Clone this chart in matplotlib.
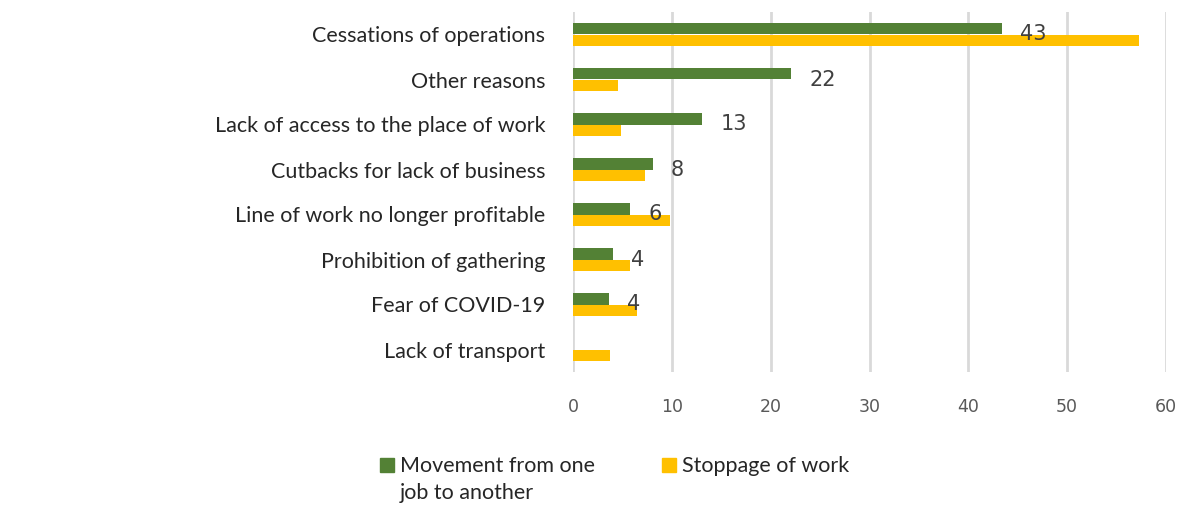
import matplotlib.pyplot as plt
from matplotlib.patches import Rectangle
import numpy as np

categories = ["Cessations of operations", "Other reasons",
              "Lack of access to the place of work", "Cutbacks for lack of business",
              "Line of work no longer profitable", "Prohibition of gathering",
              "Fear of COVID-19", "Lack of transport"]
movement = [43.4, 22.1, 13.1, 8.1, 5.8, 4.0, 3.6, 0.0]
stoppage = [57.3, 4.6, 4.9, 7.3, 9.8, 5.8, 6.5, 3.7]
xticks = [0, 10, 20, 30, 40, 50, 60]
series = ['Movement from one\njob to another', 'Stoppage of work']

green = '#538135'
yellow = '#FFC000'
W, H = 1184, 509

fig = plt.figure(figsize=(11.84, 5.09), dpi=100)
ax = fig.add_axes([573 / W, 1 - 372 / H, 593 / W, 360 / H])

y = np.arange(len(categories))
h = 0.265
ax.barh(y - h / 2, movement, height=h, color=green, zorder=3)
ax.barh(y + h / 2, stoppage, height=h, color=yellow, zorder=3)

# data labels for the green series
for i, v in enumerate(movement):
    if v > 0:
        ax.annotate(f"{v:.0f}", (v, i), xytext=(18, 0), textcoords='offset pixels',
                    ha='left', va='center', fontsize=15, color='#404040', zorder=4)

ax.set_xlim(0, 60)
ax.set_ylim(len(categories) - 0.5, -0.5)
ax.set_xticks(xticks)
ax.set_yticks(y)
ax.set_yticklabels(categories, fontsize=15.5, family='Lato', color='#262626')
ax.tick_params(axis='x', length=0, pad=19, labelsize=12.5, labelcolor='#595959')
ax.tick_params(axis='y', length=0, pad=20)
ax.grid(axis='x', color='#D9D9D9', lw=2, zorder=0)
for s in ax.spines.values():
    s.set_visible(False)

# legend drawn by hand: square sits on the first text line
for (x0, col, lab) in [(380, green, series[0]), (662, yellow, series[1])]:
    fig.patches.append(Rectangle((x0 / W, 1 - 472 / H), 14 / W, 14 / H,
                                 transform=fig.transFigure, color=col))
    fig.text((x0 + 20) / W, 1 - 456 / H, lab, ha='left', va='top',
             family='Lato', fontsize=15.5, color='#262626', linespacing=1.45)

fig.savefig('out.png', dpi=100)
